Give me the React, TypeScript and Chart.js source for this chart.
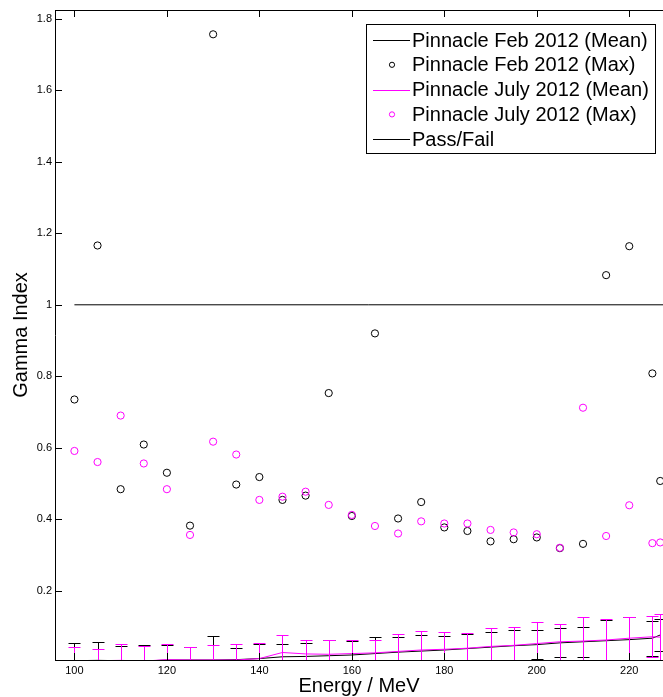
import { useEffect, useRef } from 'react';
import { Chart, registerables } from 'chart.js';

Chart.register(...registerables);

const FONT = '"Liberation Sans", Arial, Helvetica, sans-serif';

// Energies (MeV)
const energies = [100, 105, 110, 115, 120, 125, 130, 135, 140, 145, 150, 155, 160, 165, 170, 175, 180, 185, 190, 195, 200, 205, 210, 215, 220, 225, 226.7];

// Pinnacle Feb 2012
const febMean = [0.004, 0.005, 0.004, 0.003, 0.006, 0.006, 0.006, 0.007, 0.010, 0.015, 0.016, 0.018, 0.020, 0.024, 0.028, 0.031, 0.034, 0.038, 0.042, 0.046, 0.049, 0.054, 0.057, 0.060, 0.063, 0.067, 0.076];
const febSd = [0.049, 0.050, 0.040, 0.045, 0.042, 0.035, 0.066, 0.032, 0.042, 0.035, 0.037, 0.045, 0.039, 0.046, 0.042, 0.045, 0.038, 0.041, 0.042, 0.044, 0.040, 0.041, 0.042, 0.059, 0.062, 0.049, 0.044];
const febMax = [0.735, 1.166, 0.484, 0.609, 0.530, 0.382, 1.757, 0.497, 0.518, 0.454, 0.466, 0.753, 0.409, 0.920, 0.402, 0.448, 0.377, 0.367, 0.338, 0.344, 0.349, 0.319, 0.331, 1.083, 1.164, 0.808, 0.507];

// Pinnacle July 2012
const julyMean = [0.004, 0.004, 0.005, 0.003, 0.007, 0.006, 0.006, 0.006, 0.010, 0.027, 0.023, 0.022, 0.024, 0.026, 0.030, 0.034, 0.036, 0.039, 0.044, 0.047, 0.052, 0.057, 0.059, 0.062, 0.067, 0.071, 0.070];
const julySd = [0.038, 0.033, 0.045, 0.042, 0.043, 0.035, 0.042, 0.044, 0.043, 0.048, 0.039, 0.039, 0.039, 0.036, 0.050, 0.054, 0.048, 0.042, 0.051, 0.052, 0.060, 0.050, 0.066, 0.059, 0.060, 0.058, 0.064];
const julyMax = [0.591, 0.560, 0.690, 0.556, 0.484, 0.356, 0.617, 0.581, 0.454, 0.463, 0.477, 0.440, 0.412, 0.381, 0.360, 0.394, 0.388, 0.388, 0.370, 0.363, 0.358, 0.320, 0.712, 0.353, 0.439, 0.333, 0.335];

// Pass/Fail threshold
const passFailEnergy = [100, 227.3];
const passFailValue = [1, 1];

// Axes
const xRange = [95.8, 227.3];
const yRange = [0.006, 1.825];
const xTicks = [100, 120, 140, 160, 180, 200, 220];
const yTicks = [0.2, 0.4, 0.6, 0.8, 1, 1.2, 1.4, 1.6, 1.8];
const yTickLabels = ['0.2', '0.4', '0.6', '0.8', '1', '1.2', '1.4', '1.6', '1.8'];

const legendLabels = [
  'Pinnacle Feb 2012 (Mean)',
  'Pinnacle Feb 2012 (Max)',
  'Pinnacle July 2012 (Mean)',
  'Pinnacle July 2012 (Max)',
  'Pass/Fail',
];
const legendKinds = ['line', 'point', 'line', 'point', 'line'];
const legendColors = ['#000000', '#000000', '#ff00ff', '#ff00ff', '#000000'];

const BLACK = '#000000';
const MAGENTA = '#ff00ff';

const pts = (xs: number[], ys: number[]) => xs.map((x, i) => ({ x, y: ys[i] }));

const errorBarPlugin = {
  id: 'errorBars',
  afterDatasetsDraw(chart: any) {
    const { ctx, chartArea: a, scales } = chart;
    const xs = scales.x;
    const ys = scales.y;
    ctx.save();
    ctx.beginPath();
    ctx.rect(a.left, a.top, a.right - a.left, a.bottom - a.top);
    ctx.clip();
    const series = [
      { mean: febMean, sd: febSd, color: BLACK },
      { mean: julyMean, sd: julySd, color: MAGENTA },
    ];
    ctx.lineWidth = 1;
    for (const s of series) {
      ctx.strokeStyle = s.color;
      ctx.beginPath();
      energies.forEach((e, i) => {
        const px = Math.round(xs.getPixelForValue(e)) + 0.5;
        const yt = Math.round(ys.getPixelForValue(s.mean[i] + s.sd[i])) + 0.5;
        const yb = Math.round(ys.getPixelForValue(s.mean[i] - s.sd[i])) + 0.5;
        ctx.moveTo(px, yt);
        ctx.lineTo(px, yb);
        ctx.moveTo(px - 6, yt);
        ctx.lineTo(px + 6, yt);
        ctx.moveTo(px - 6, yb);
        ctx.lineTo(px + 6, yb);
      });
      ctx.stroke();
    }
    ctx.restore();
  },
};

const framePlugin = {
  id: 'frame',
  afterDraw(chart: any) {
    const { ctx, chartArea: a, scales } = chart;
    ctx.save();
    ctx.strokeStyle = '#000';
    ctx.lineWidth = 1;
    ctx.beginPath();
    ctx.moveTo(a.left, a.top + 0.5);
    ctx.lineTo(a.right, a.top + 0.5);
    for (const t of scales.x.ticks) {
      const px = Math.round(scales.x.getPixelForValue(t.value)) + 0.5;
      ctx.moveTo(px, a.top);
      ctx.lineTo(px, a.top + 7);
      ctx.moveTo(px, a.bottom);
      ctx.lineTo(px, a.bottom - 7);
    }
    for (const t of scales.y.ticks) {
      const py = Math.round(scales.y.getPixelForValue(t.value)) + 0.5;
      ctx.moveTo(a.left, py);
      ctx.lineTo(a.left + 7, py);
    }
    ctx.stroke();
    ctx.restore();
  },
};

const legendPlugin = {
  id: 'boxLegend',
  afterDraw(chart: any) {
    const { ctx } = chart;
    const bx = 366.5, by = 24.5, bw = 289, bh = 129;
    ctx.save();
    ctx.fillStyle = '#fff';
    ctx.fillRect(bx, by, bw, bh);
    ctx.strokeStyle = '#000';
    ctx.lineWidth = 1;
    ctx.strokeRect(bx, by, bw, bh);
    ctx.font = `20px ${FONT}`;
    ctx.textBaseline = 'middle';
    ctx.textAlign = 'left';
    legendLabels.forEach((label, i) => {
      const cy = 40 + i * 24.8;
      const ly = Math.round(cy) + 0.5;
      ctx.strokeStyle = legendColors[i];
      ctx.beginPath();
      if (legendKinds[i] === 'line') {
        ctx.moveTo(373, ly);
        ctx.lineTo(410, ly);
      } else {
        ctx.arc(392, cy, 2.6, 0, Math.PI * 2);
      }
      ctx.stroke();
      ctx.fillStyle = '#000';
      ctx.fillText(label, 412, cy + 1);
    });
    ctx.restore();
  },
};

export default function App() {
  const ref = useRef<HTMLCanvasElement | null>(null);
  useEffect(() => {
    document.body.style.margin = '0';
    if (!ref.current) return;
    const chart = new Chart(ref.current, {
      type: 'scatter',
      data: {
        datasets: [
          {
            label: legendLabels[0],
            data: pts(energies, febMean),
            showLine: true,
            borderColor: BLACK,
            borderWidth: 1,
            pointRadius: 0,
            order: 1,
          },
          {
            label: legendLabels[1],
            data: pts(energies, febMax),
            showLine: false,
            borderColor: BLACK,
            backgroundColor: 'rgba(0,0,0,0)',
            pointRadius: 3.6,
            pointBorderWidth: 1,
            order: 1,
          },
          {
            label: legendLabels[2],
            data: pts(energies, julyMean),
            showLine: true,
            borderColor: MAGENTA,
            borderWidth: 1,
            pointRadius: 0,
            order: 0,
          },
          {
            label: legendLabels[3],
            data: pts(energies, julyMax),
            showLine: false,
            borderColor: MAGENTA,
            backgroundColor: 'rgba(0,0,0,0)',
            pointRadius: 3.6,
            pointBorderWidth: 1,
            order: 0,
          },
          {
            label: legendLabels[4],
            data: pts(passFailEnergy, passFailValue),
            showLine: true,
            borderColor: BLACK,
            borderWidth: 1,
            pointRadius: 0,
            order: 2,
          },
        ],
      },
      options: {
        animation: false,
        responsive: false,
        layout: { autoPadding: false, padding: { top: 10, right: 0, left: 0, bottom: 0 } },
        plugins: {
          legend: { display: false },
          tooltip: { enabled: false },
        },
        scales: {
          x: {
            type: 'linear',
            min: xRange[0],
            max: xRange[1],
            grid: { display: false, drawTicks: false },
            border: { display: true, color: '#000', width: 1 },
            ticks: {
              color: '#000',
              font: { family: FONT, size: 11 },
              padding: 4,
              maxRotation: 0,
              autoSkip: false,
              includeBounds: false,
              callback: (v: any) => String(v),
            },
            afterBuildTicks: (scale: any) => {
              scale.ticks = xTicks.map((v) => ({ value: v }));
            },
            afterFit: (scale: any) => {
              scale.height = 37;
              scale.paddingLeft = 0;
              scale.paddingRight = 0;
            },
            title: {
              display: true,
              text: 'Energy / MeV',
              color: '#000',
              font: { family: FONT, size: 20, lineHeight: 1.1 },
              padding: { top: 0, bottom: 0 },
            },
          },
          y: {
            type: 'linear',
            min: yRange[0],
            max: yRange[1],
            grid: { display: false, drawTicks: false },
            border: { display: true, color: '#000', width: 1 },
            ticks: {
              color: '#000',
              font: { family: FONT, size: 11 },
              padding: 3,
              autoSkip: false,
              includeBounds: false,
              callback: (v: any) => {
                const i = yTicks.findIndex((t) => Math.abs(t - v) < 1e-9);
                return i >= 0 ? yTickLabels[i] : '';
              },
            },
            afterBuildTicks: (scale: any) => {
              scale.ticks = yTicks.map((v) => ({ value: v }));
            },
            afterFit: (scale: any) => {
              scale.width = 55;
              scale.paddingTop = 0;
              scale.paddingBottom = 0;
            },
            title: {
              display: true,
              text: 'Gamma Index',
              color: '#000',
              font: { family: FONT, size: 20, lineHeight: 1.2 },
              padding: { top: 9, bottom: 0 },
            },
          },
        },
      },
      plugins: [errorBarPlugin, framePlugin, legendPlugin],
    } as any);
    return () => chart.destroy();
  }, []);
  return (
    <div style={{ width: 663, height: 697 }}>
      <canvas ref={ref} width={663} height={697} style={{ display: 'block' }} />
    </div>
  );
}
